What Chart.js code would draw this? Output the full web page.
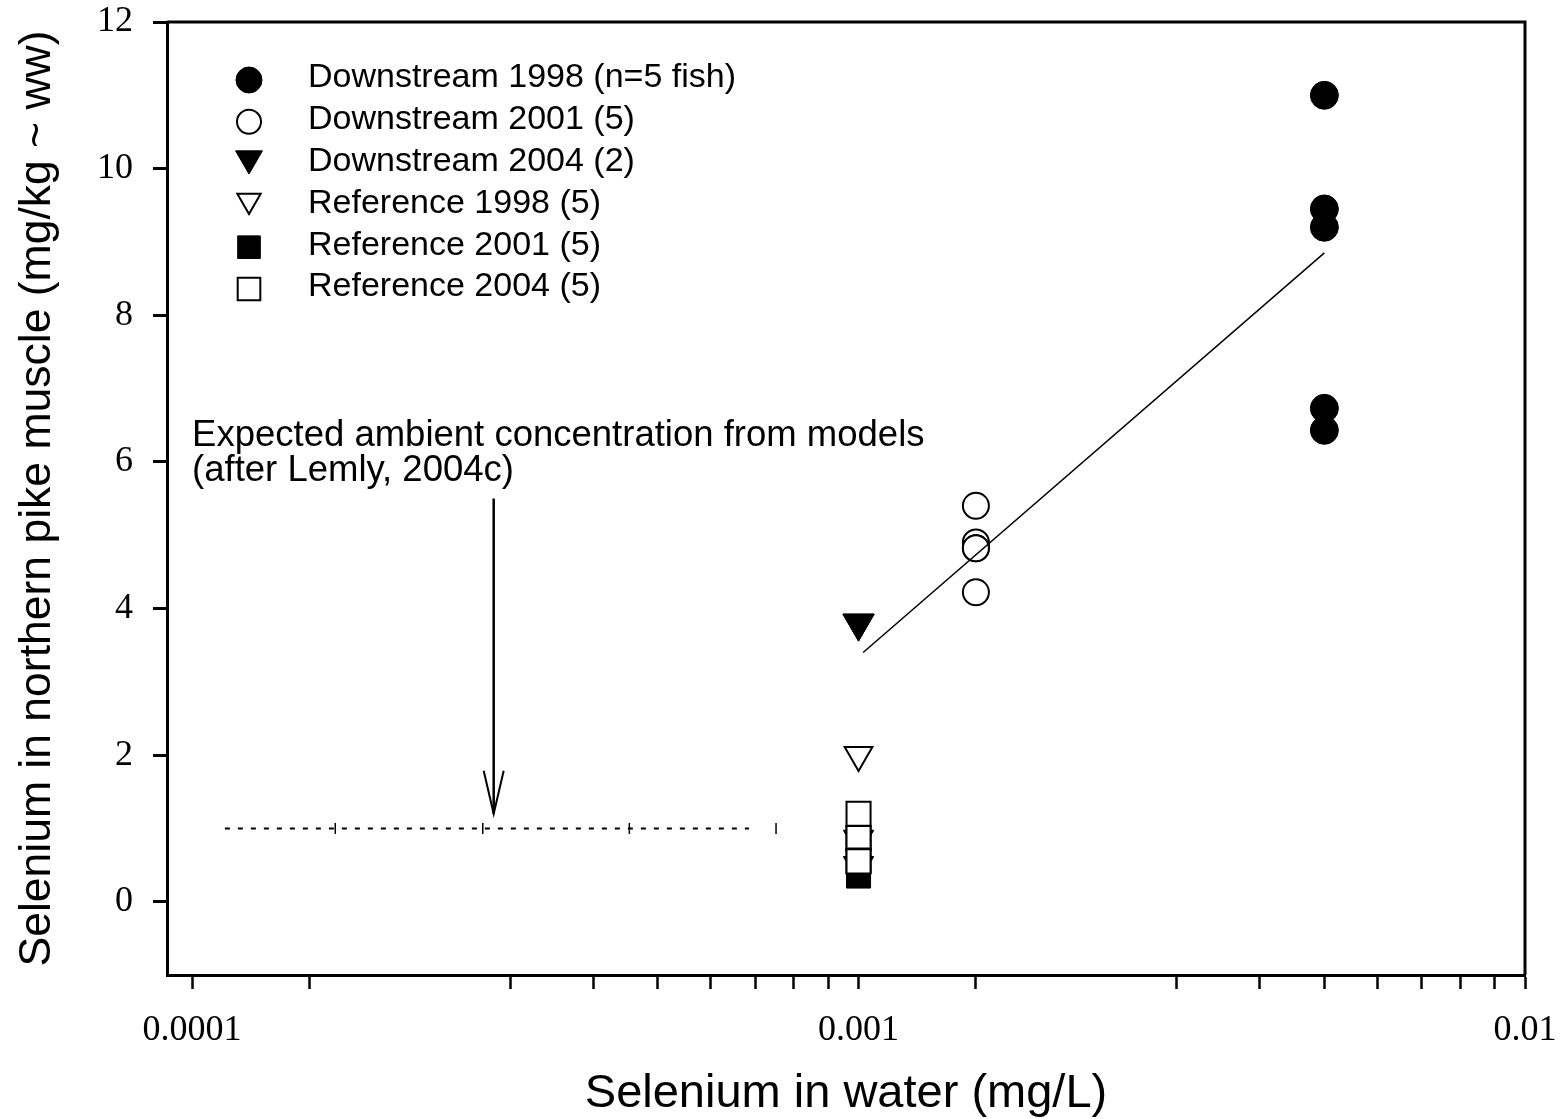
<!DOCTYPE html>
<html>
<head>
<meta charset="utf-8">
<script src="https://cdn.jsdelivr.net/npm/chart.js@4.4.1/dist/chart.umd.min.js"></script>
<style>
    html, body { margin: 0; padding: 0; background: #ffffff; }
</style>
</head>
<body>
<canvas id="seChart" width="1564" height="1119"></canvas>
<script>
// selenium in water (mg/L) for each group of fish
const xDown1998 = 0.005;
const xDown2001 = 0.0015;
const xDown2004 = 0.001;
const xRef = 0.001;

// selenium in pike muscle (mg/kg ww), one value per fish
const down1998Y = [11.0, 9.45, 9.2, 6.73, 6.43];
const down2001Y = [5.4, 4.9, 4.82, 4.82, 4.22];
const down2004Y = [3.8, 3.8];
const ref1998Y = [2.0, 0.86, 0.85, 0.5, 0.49];
const ref2001Y = [0.35, 0.6, 0.7, 0.87, 0.9];
const ref2004Y = [1.2, 0.87, 0.87, 0.56, 0.55];

// regression line
const fitX = [0.001016, 0.005];
const fitY = [3.4, 8.85];

// expected ambient concentration from models (dashed line)
const modelX = [0.000112, 0.000164, 0.000273, 0.000453, 0.000685, 0.000752];
const modelY = [1, 1, 1, 1, 1, 1];

// arrow pointing to the model line
const arrowX = [0.0002835, 0.0002835];
const arrowY = [5.5, 1.2];

const legendLabels = [
    'Downstream 1998 (n=5 fish)',
    'Downstream 2001 (5)',
    'Downstream 2004 (2)',
    'Reference 1998 (5)',
    'Reference 2001 (5)',
    'Reference 2004 (5)'
];
const noteLines = ['Expected ambient concentration from models', '(after Lemly, 2004c)'];

const xTicks = [0.0001, 0.00015, 0.0003, 0.0004, 0.0005, 0.0006, 0.0007, 0.0008, 0.0009,
    0.001, 0.0015, 0.003, 0.004, 0.005, 0.006, 0.007, 0.008, 0.009, 0.01];
const xLabelled = [0.0001, 0.001, 0.01];
const yTicks = [0, 2, 4, 6, 8, 10, 12];

function pts(x, ys) {
    return ys.map(y => ({ x: x, y: y }));
}
function pairs(xs, ys) {
    return xs.map((x, i) => ({ x: x, y: ys[i] }));
}

function markerSet(label, data, style, order) {
    return Object.assign({
        label: label,
        data: data,
        showLine: false,
        inLegend: true,
        order: order,
        pointBorderColor: '#000',
        pointHoverRadius: style.pointRadius
    }, style);
}

const filledCircle = { pointStyle: 'circle', pointRadius: 14, pointRotation: 0, pointBackgroundColor: '#000', pointBorderWidth: 1 };
const openCircle = { pointStyle: 'circle', pointRadius: 13, pointRotation: 0, pointBackgroundColor: '#fff', pointBorderWidth: 2 };
const filledTri = { pointStyle: 'triangle', pointRadius: 18, pointRotation: 180, pointBackgroundColor: '#000', pointBorderWidth: 1 };
const openTri = { pointStyle: 'triangle', pointRadius: 16, pointRotation: 180, pointBackgroundColor: '#fff', pointBorderWidth: 2 };
const filledSq = { pointStyle: 'rect', pointRadius: 17, pointRotation: 0, pointBackgroundColor: '#000', pointBorderWidth: 1 };
const openSq = { pointStyle: 'rect', pointRadius: 17, pointRotation: 0, pointBackgroundColor: '#fff', pointBorderWidth: 2 };

const datasets = [
    markerSet(legendLabels[0], pts(xDown1998, down1998Y), filledCircle, 6),
    markerSet(legendLabels[1], pts(xDown2001, down2001Y), openCircle, 5),
    markerSet(legendLabels[2], pts(xDown2004, down2004Y), filledTri, 4),
    markerSet(legendLabels[3], pts(xRef, ref1998Y), openTri, 3),
    markerSet(legendLabels[4], pts(xRef, ref2001Y), filledSq, 2),
    markerSet(legendLabels[5], pts(xRef, ref2004Y), openSq, 1),
    {
        label: 'fit',
        data: pairs(fitX, fitY),
        showLine: true,
        borderColor: '#000',
        borderWidth: 1.5,
        pointRadius: 0,
        order: 0
    },
    {
        label: 'model',
        data: pairs(modelX, modelY),
        showLine: true,
        borderColor: '#000',
        borderWidth: 2,
        borderDash: [5, 8],
        segment: {
            borderColor: c => c.p1DataIndex === modelX.length - 1 ? 'rgba(0,0,0,0)' : '#000'
        },
        pointStyle: 'line',
        pointRotation: 90,
        pointRadius: [0, 5.5, 5.5, 5.5, 0, 5.5],
        pointBorderColor: '#000',
        pointBorderWidth: 1.5,
        order: 0
    },
    {
        label: 'arrow',
        data: pairs(arrowX, arrowY),
        showLine: true,
        borderColor: '#000',
        borderWidth: 2.5,
        pointRadius: 0,
        order: 0
    }
];

// top and right frame lines, legend, note text and arrow head
const extrasPlugin = {
    id: 'extras',
    beforeDatasetsDraw(chart) {
        const { ctx, chartArea } = chart;
        ctx.save();
        ctx.strokeStyle = '#000';
        ctx.lineWidth = 3;
        ctx.beginPath();
        ctx.moveTo(chartArea.left, chartArea.top);
        ctx.lineTo(chartArea.right, chartArea.top);
        ctx.lineTo(chartArea.right, chartArea.bottom);
        ctx.stroke();
        ctx.restore();
    },
    afterDatasetsDraw(chart) {
        const { ctx, scales } = chart;
        ctx.save();

        // legend
        ctx.font = '34px "Liberation Sans", Arial, sans-serif';
        ctx.textBaseline = 'middle';
        ctx.textAlign = 'left';
        chart.data.datasets.filter(ds => ds.inLegend).forEach((ds, i) => {
            const y = 78 + i * 41.8;
            const r = ds.pointStyle === 'triangle' ? ds.pointRadius - 2.5 : ds.pointRadius - 1;
            const my = ds.pointStyle === 'triangle' ? y - 3 : y + 2;
            ctx.fillStyle = ds.pointBackgroundColor;
            ctx.strokeStyle = '#000';
            ctx.lineWidth = ds.pointBorderWidth;
            Chart.helpers.drawPoint(ctx, {
                pointStyle: ds.pointStyle,
                rotation: ds.pointRotation,
                radius: r,
                borderWidth: ds.pointBorderWidth
            }, 249, my);
            ctx.fillStyle = '#000';
            ctx.fillText(ds.label, 308, y);
        });

        // note
        const nx = scales.x.getPixelForValue(0.0001);
        ctx.font = '36.5px "Liberation Sans", Arial, sans-serif';
        ctx.fillText(noteLines[0], nx, scales.y.getPixelForValue(6.35));
        ctx.fillText(noteLines[1], nx, scales.y.getPixelForValue(5.88));

        // arrow head
        const meta = chart.getDatasetMeta(chart.data.datasets.findIndex(d => d.label === 'arrow'));
        const tip = meta.data[meta.data.length - 1];
        ctx.strokeStyle = '#000';
        ctx.lineWidth = 2;
        ctx.beginPath();
        ctx.moveTo(tip.x - 10, tip.y - 43);
        ctx.lineTo(tip.x, tip.y);
        ctx.lineTo(tip.x + 10, tip.y - 43);
        ctx.stroke();
        ctx.restore();
    }
};

new Chart(document.getElementById('seChart'), {
    type: 'scatter',
    data: { datasets: datasets },
    plugins: [extrasPlugin],
    options: {
        responsive: false,
        animation: false,
        events: [],
        layout: { padding: { top: 22, right: 39, left: 0, bottom: 0 } },
        plugins: {
            legend: { display: false },
            tooltip: { enabled: false }
        },
        scales: {
            x: {
                type: 'logarithmic',
                min: 0.0000917,
                max: 0.01,
                border: { display: true, color: '#000', width: 3 },
                grid: { drawOnChartArea: false, drawTicks: true, tickLength: 14, tickWidth: 2.5, tickColor: '#000' },
                afterBuildTicks: axis => {
                    axis.ticks = xTicks.map(v => ({ value: v }));
                },
                afterFit: axis => {
                    axis.height = 144;
                    axis.paddingLeft = 0;
                    axis.paddingRight = 0;
                },
                ticks: {
                    autoSkip: false,
                    maxRotation: 0,
                    padding: 20,
                    color: '#000',
                    font: { family: '"Liberation Serif", "Times New Roman", serif', size: 36 },
                    callback: v => xLabelled.includes(v) ? String(v) : ''
                },
                title: {
                    display: true,
                    text: 'Selenium in water (mg/L)',
                    color: '#000',
                    font: { family: '"Liberation Sans", Arial, sans-serif', size: 47, lineHeight: 1 },
                    padding: { top: 0, bottom: 1 }
                }
            },
            y: {
                min: -1,
                max: 12,
                border: { display: true, color: '#000', width: 3 },
                grid: { drawOnChartArea: false, drawTicks: true, tickLength: 14, tickWidth: 3, tickColor: '#000' },
                afterBuildTicks: axis => {
                    axis.ticks = yTicks.map(v => ({ value: v }));
                },
                afterFit: axis => {
                    axis.width = 167;
                    axis.paddingTop = 0;
                    axis.paddingBottom = 0;
                },
                ticks: {
                    padding: 20,
                    color: '#000',
                    font: { family: '"Liberation Serif", "Times New Roman", serif', size: 36 }
                },
                title: {
                    display: true,
                    text: 'Selenium in northern pike muscle (mg/kg ~ ww)',
                    color: '#000',
                    font: { family: '"Liberation Sans", Arial, sans-serif', size: 44.5, lineHeight: 1 },
                    padding: { top: 15, bottom: 0 }
                }
            }
        }
    }
});
</script>
</body>
</html>
